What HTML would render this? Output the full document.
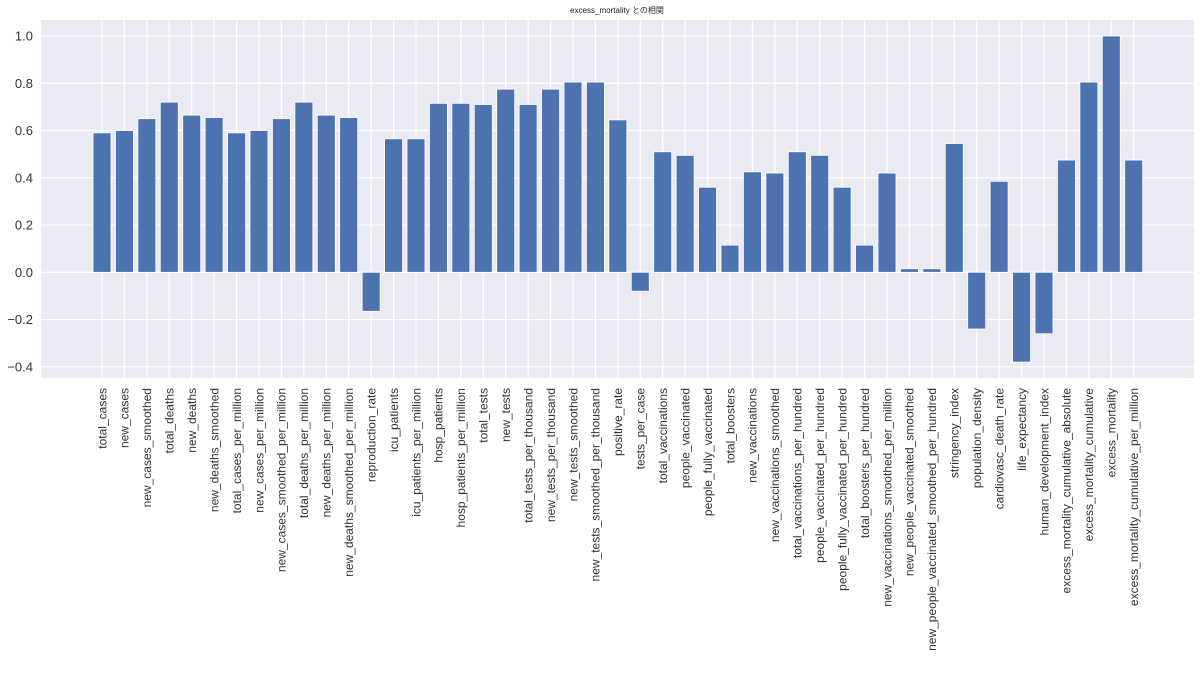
<!DOCTYPE html>
<html><head><meta charset="utf-8"><style>
html,body{margin:0;padding:0;background:#fff;}
svg{display:block;font-family:"Liberation Sans","Noto Sans CJK JP",sans-serif;}
</style></head><body>
<svg id="chart" width="1200" height="678" xmlns="http://www.w3.org/2000/svg">
<text x="617" y="13" font-size="8" text-anchor="middle" fill="#222">excess_mortality との相関</text>
<rect x="41" y="20" width="1153" height="358" fill="#eaeaf2"/>
<g id="grid"></g><g id="bars"></g><g id="yticks"></g><g id="xticks"></g>
</svg>
<script>
const categories=["total_cases","new_cases","new_cases_smoothed","total_deaths","new_deaths","new_deaths_smoothed","total_cases_per_million","new_cases_per_million","new_cases_smoothed_per_million","total_deaths_per_million","new_deaths_per_million","new_deaths_smoothed_per_million","reproduction_rate","icu_patients","icu_patients_per_million","hosp_patients","hosp_patients_per_million","total_tests","new_tests","total_tests_per_thousand","new_tests_per_thousand","new_tests_smoothed","new_tests_smoothed_per_thousand","positive_rate","tests_per_case","total_vaccinations","people_vaccinated","people_fully_vaccinated","total_boosters","new_vaccinations","new_vaccinations_smoothed","total_vaccinations_per_hundred","people_vaccinated_per_hundred","people_fully_vaccinated_per_hundred","total_boosters_per_hundred","new_vaccinations_smoothed_per_million","new_people_vaccinated_smoothed","new_people_vaccinated_smoothed_per_hundred","stringency_index","population_density","cardiovasc_death_rate","life_expectancy","human_development_index","excess_mortality_cumulative_absolute","excess_mortality_cumulative","excess_mortality","excess_mortality_cumulative_per_million"];
const values=[0.59,0.60,0.65,0.72,0.665,0.655,0.59,0.60,0.65,0.72,0.665,0.655,-0.165,0.565,0.565,0.715,0.715,0.71,0.775,0.71,0.775,0.805,0.805,0.645,-0.08,0.51,0.495,0.36,0.115,0.425,0.42,0.51,0.495,0.36,0.115,0.42,0.015,0.015,0.545,-0.24,0.385,-0.38,-0.26,0.475,0.805,1.0,0.475];
const yTickValues=[-0.4,-0.2,0.0,0.2,0.4,0.6,0.8,1.0];
const yTickLabels=["−0.4","−0.2","0.0","0.2","0.4","0.6","0.8","1.0"];
const NS="http://www.w3.org/2000/svg";
const y0=272.3, yScale=236.3;
function yPos(v){return y0-v*yScale;}
const x0=102, step=(1133.7-102)/46;
function xPos(i){return x0+i*step;}
const bw=step*0.8;
const grid=document.getElementById('grid'),bars=document.getElementById('bars'),yt=document.getElementById('yticks'),xt=document.getElementById('xticks');
function mk(tag,attrs,parent){const e=document.createElementNS(NS,tag);for(const k in attrs)e.setAttribute(k,attrs[k]);parent.appendChild(e);return e;}
yTickValues.forEach((v,i)=>{
  const y=yPos(v);
  const l=mk('line',{x1:41,x2:1194,y1:y,y2:y,stroke:'#fff','stroke-width':1.2},grid);
  
  
  const t=mk('text',{x:33,y:y+4.5,'font-size':13,'text-anchor':'end',fill:'#333'},yt);
  t.textContent=yTickLabels[i];
  
  
});
categories.forEach((c,i)=>{
  const x=xPos(i);
  const l=mk('line',{x1:x,x2:x,y1:20,y2:378,stroke:'#fff','stroke-width':1.2},grid);
  
  
  const v=values[i];
  const top=Math.min(yPos(v),y0), h=Math.abs(yPos(v)-y0);
  const r=mk('rect',{x:x-bw/2,y:top,width:bw,height:h,fill:'#4c72b0',stroke:'#fff','stroke-width':0.8},bars);
  
  
  const t=mk('text',{x:0,y:0,'font-size':12,'text-anchor':'end',fill:'#333',transform:'translate('+(x+4.3)+',388) rotate(-90)'},xt);
  t.textContent=c;
  
  
});
</script>
</body></html>
